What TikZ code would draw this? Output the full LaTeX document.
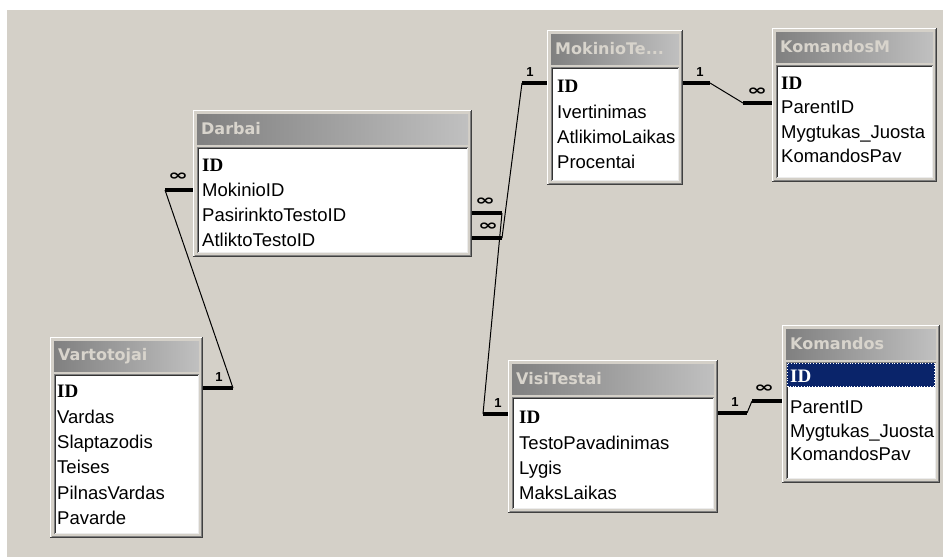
\documentclass[tikz,border=0pt]{standalone}
\usepackage{fontspec}
\setmainfont{Liberation Sans}
\newfontfamily\ttlfont{DejaVu Sans}
\newfontfamily\idfont{Liberation Serif}
\newfontfamily\symfont{DejaVu Sans}
\definecolor{winface}{HTML}{D4D0C8}
\definecolor{ttlL}{HTML}{808080}
\definecolor{ttlR}{HTML}{C0C0C0}
\definecolor{ttltext}{HTML}{D8D4CC}
\definecolor{selblue}{HTML}{0A246A}
\newcommand\dbtab[6]{%
  \fill[winface] (#2,#3) rectangle (#4,#5);
  \draw[white,line width=1pt] (#2+0.5,#5-1) -- (#2+0.5,#3+0.5) -- (#4-1,#3+0.5);
  \draw[black!75,line width=1pt] (#2,#5-0.5) -- (#4-0.5,#5-0.5) -- (#4-0.5,#3);
  \draw[gray,line width=1pt] (#2+1.5,#5-1.5) -- (#4-1.5,#5-1.5) -- (#4-1.5,#3+1);
  \shade[left color=ttlL,right color=ttlR] (#2+4,#3+4) rectangle (#4-4,#3+34);
  \node[ttl] (#1-title) at (#2+8,#3+19) {#6};
  \fill[white] (#2+4,#3+37) rectangle (#4-4,#5-4);
  \draw[gray,line width=1pt] (#2+4.5,#5-4) -- (#2+4.5,#3+37.5) -- (#4-4,#3+37.5);
  \draw[black!80,line width=1pt] (#2+5.5,#5-5) -- (#2+5.5,#3+38.5) -- (#4-5,#3+38.5);
  \draw[white!85!gray,line width=1pt] (#2+5,#5-4.5) -- (#4-4.5,#5-4.5) -- (#4-4.5,#3+38);
}
\begin{document}
\begin{tikzpicture}[x=1pt,y=-1pt,
  fld/.style={anchor=base west,inner sep=0pt,font=\fontsize{18.5}{18.5}\selectfont},
  idf/.style={anchor=base west,inner sep=0pt,font=\idfont\bfseries\fontsize{19}{19}\selectfont},
  ttl/.style={anchor=west,inner sep=0pt,text=ttltext,font=\ttlfont\bfseries\fontsize{16}{16}\selectfont},
  relbar/.style={line width=4pt},
  relline/.style={line width=1pt},
  onelab/.style={inner sep=0pt,font=\bfseries\fontsize{13}{13}\selectfont},
  manylab/.style={inner sep=0pt,font=\symfont\bfseries\fontsize{15}{15}\selectfont}]
\useasboundingbox (0,0) rectangle (943,557);
\fill[white] (0,0) rectangle (943,557);
\fill[winface] (7,10) rectangle (943,557);

% ---------- tables ----------
\dbtab{darbai}{193}{110}{472}{257}{Darbai}
\node[idf] (darbai-r1) at (202,171) {ID};
\node[fld] (darbai-r2) at (202,196) {MokinioID};
\node[fld] (darbai-r3) at (202,221) {PasirinktoTestoID};
\node[fld] (darbai-r4) at (202,246) {AtliktoTestoID};

\dbtab{mok}{547}{30}{683}{185}{MokinioTe...}
\node[idf] (mok-r1) at (557,92) {ID};
\node[fld] (mok-r2) at (557,118) {Ivertinimas};
\node[fld] (mok-r3) at (557,143) {AtlikimoLaikas};
\node[fld] (mok-r4) at (557,168) {Procentai};

\dbtab{kom}{772}{28}{937}{182}{KomandosM}
\node[idf] (kom-r1) at (781,89) {ID};
\node[fld] (kom-r2) at (781,113) {ParentID};
\node[fld] (kom-r3) at (781,138) {Mygtukas\_Juosta};
\node[fld] (kom-r4) at (781,162) {KomandosPav};

\dbtab{var}{50}{337}{203}{538}{Vartotojai}
\node[idf] (var-r1) at (57,397) {ID};
\node[fld] (var-r2) at (57,423) {Vardas};
\node[fld] (var-r3) at (57,448) {Slaptazodis};
\node[fld] (var-r4) at (57,473) {Teises};
\node[fld] (var-r5) at (57,499) {PilnasVardas};
\node[fld] (var-r6) at (57,524) {Pavarde};

\dbtab{visi}{508}{360}{718}{513}{VisiTestai}
\node[idf] (visi-r1) at (519,423) {ID};
\node[fld] (visi-r2) at (519,449) {TestoPavadinimas};
\node[fld] (visi-r3) at (519,474) {Lygis};
\node[fld] (visi-r4) at (519,499) {MaksLaikas};

\dbtab{koms}{782}{325}{940}{483}{Komandos}
\fill[selblue] (787,363) rectangle (935,387);
\draw[white,dotted,line width=0.8pt] (787.5,363.5) rectangle (934.5,386.5);
\node[idf,text=white] (koms-r1) at (790,382) {ID};
\node[fld] (koms-r2) at (790,413) {ParentID};
\node[fld] (koms-r3) at (790,437) {Mygtukas\_Juosta};
\node[fld] (koms-r4) at (790,460) {KomandosPav};

% ---------- relationship end points ----------
\coordinate (a1) at (165,190); \coordinate (a2) at (193,190);
\coordinate (b1) at (203,388); \coordinate (b2) at (233,388);
\coordinate (c1) at (472,213); \coordinate (c2) at (502,213);
\coordinate (d1) at (472,238); \coordinate (d2) at (502,238);
\coordinate (e1) at (522,83);  \coordinate (e2) at (547,83);
\coordinate (f1) at (483,414); \coordinate (f2) at (508,414);
\coordinate (g1) at (683,83);  \coordinate (g2) at (710,83);
\coordinate (h1) at (743,103); \coordinate (h2) at (772,103);
\coordinate (i1) at (718,413); \coordinate (i2) at (747,413);
\coordinate (j1) at (752,401); \coordinate (j2) at (782,401);

% Darbai.MokinioID -- Vartotojai.ID
\draw[relbar] (a1) -- (a2);
\draw[relbar] (b1) -- (b2);
\draw[relline] (a1) -- (b2);
\node[manylab] (la) at (178,177) {\scalebox{1.6}[1]{∞}};
\node[onelab] (lb) at (219,377) {1};

% Darbai.PasirinktoTestoID -- VisiTestai.ID
\draw[relbar] (c1) -- (c2);
\draw[relbar] (f1) -- (f2);
\draw[relline] (c2) -- (f1);
\node[manylab] (lc) at (485,202) {\scalebox{1.6}[1]{∞}};
\node[onelab] (lf) at (498,403) {1};

% Darbai.AtliktoTestoID -- MokinioTe.ID
\draw[relbar] (d1) -- (d2);
\draw[relbar] (e1) -- (e2);
\draw[relline] (d2) -- (e1);
\node[manylab] (ld) at (488,227) {\scalebox{1.6}[1]{∞}};
\node[onelab] (le) at (530,72) {1};

% MokinioTe.ID -- KomandosM.ParentID
\draw[relbar] (g1) -- (g2);
\draw[relbar] (h1) -- (h2);
\draw[relline] (g2) -- (h1);
\node[onelab] (lg) at (700,72) {1};
\node[manylab] (lh) at (757,92) {\scalebox{1.6}[1]{∞}};

% VisiTestai.ID -- Komandos.ParentID
\draw[relbar] (i1) -- (i2);
\draw[relbar] (j1) -- (j2);
\draw[relline] (i2) -- (j1);
\node[onelab] (li) at (735,402) {1};
\node[manylab] (lj) at (764,389) {\scalebox{1.6}[1]{∞}};
\end{tikzpicture}
\end{document}
